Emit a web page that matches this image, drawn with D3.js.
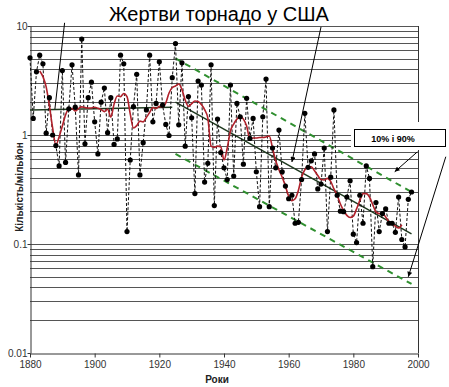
<!DOCTYPE html>
<html>
<head>
<meta charset="utf-8">
<script src="https://cdn.jsdelivr.net/npm/d3@7"></script>
<style>
  body { margin: 0; background: #fff; }
  svg { display: block; font-family: Arial, 'Liberation Sans', sans-serif; }
</style>
</head>
<body>
<div id="chart"></div>
<script>
// ANOS E VALORES (mortes por tornado por milhão de habitantes)
const first_year = 1880;
const deaths = [
  5.1, 1.42, 3.8, 5.4, 4.5, 1.04, 2.2, 1.0, 0.8, 0.52,       // 1880-1889
  3.9, 0.56, 1.74, 4.4, 1.8, 0.43, 7.6, 0.83, 2.2, 3.05,     // 1890-1899
  1.32, 0.67, 2.0, 2.7, 1.05, 2.2, 0.82, 0.92, 5.4, 4.5,     // 1900-1909
  0.13, 0.59, 1.82, 3.6, 0.43, 0.85, 1.7, 5.4, 1.32, 1.95,   // 1910-1919
  4.7, 1.88, 1.25, 0.99, 3.36, 6.9, 1.24, 4.6, 0.79, 2.25,   // 1920-1929
  1.44, 0.29, 3.13, 2.87, 0.37, 0.55, 4.4, 0.225, 1.4, 0.69, // 1930-1939
  0.5, 0.39, 2.87, 0.42, 1.95, 1.47, 0.54, 2.17, 0.93, 1.42, // 1940-1949
  0.46, 0.22, 1.47, 3.26, 0.22, 0.76, 0.5, 1.11, 0.46, 0.34, // 1950-1959
  0.26, 0.28, 0.155, 0.158, 0.39, 1.58, 0.505, 0.58, 0.67, 0.32, // 1960-1969
  0.355, 0.76, 0.13, 0.41, 1.7, 0.28, 0.2, 0.198, 0.27, 0.38,    // 1970-1979
  0.123, 0.103, 0.28, 0.155, 0.52, 0.4, 0.062, 0.24, 0.13, 0.19, // 1980-1989
  0.21, 0.155, 0.155, 0.128, 0.27, 0.11, 0.094, 0.257, 0.3       // 1990-1998
];

// MÉDIA SUAVIZADA (linha vermelha), de 1883 a 1995
const smooth_first_year = 1883;
const smooth = [
  3.87, 3.43, 2.76, 1.85, 1.16, 0.81, 0.96, 1.21, 1.53, 1.73,  // 1883-1892
  1.75, 1.66, 1.75, 1.81, 1.79, 1.77, 1.77, 1.8, 1.76, 1.71,   // 1893-1902
  1.64, 1.73, 1.46, 1.92, 2.28, 2.25, 2.4, 2.25, 1.56, 1.16,   // 1903-1912
  1.22, 1.34, 1.32, 1.45, 1.61, 1.79, 1.75, 1.83, 1.81, 1.97,  // 1913-1922
  2.43, 2.73, 2.82, 2.94, 2.61, 2.09, 1.83, 1.94, 2.05, 2.03,  // 1923-1932
  1.9, 1.71, 1.43, 0.79, 0.77, 0.79, 0.78, 0.59, 0.76, 1.09,   // 1933-1942
  1.26, 1.4, 1.49, 1.4, 1.21, 0.92, 0.94, 0.94, 0.95, 0.95,    // 1943-1952
  0.96, 0.98, 0.76, 0.58, 0.48, 0.41, 0.34, 0.275, 0.25, 0.26, // 1953-1962
  0.31, 0.41, 0.48, 0.51, 0.51, 0.47, 0.425, 0.39, 0.387, 0.4, // 1963-1972
  0.375, 0.32, 0.28, 0.233, 0.203, 0.183, 0.175, 0.18, 0.21, 0.25, // 1973-1982
  0.29, 0.29, 0.27, 0.23, 0.197, 0.19, 0.19, 0.177, 0.16, 0.153,   // 1983-1992
  0.146, 0.14, 0.15                                                 // 1993-1995
];

// TENDÊNCIAS E PERCENTIS [ano, valor]
const trend_old = [[1880, 1.7], [1924, 1.8]];
const trend_new = [[1925, 2.0], [1998, 0.124]];
const pct_90 = [[1925, 5.05], [1998, 0.30]];
const pct_10 = [[1925, 0.67], [1998, 0.043]];

// EIXOS
const x_ticks = [1880, 1900, 1920, 1940, 1960, 1980, 2000];
const y_ticks = [0.01, 0.1, 1, 10];
const y_tick_labels = ['0.01', '0.1', '1', '10'];

// SETAS DE ANOTAÇÃO [ano, valor] -> [ano, valor]
const leaders = [
  { from: [1890.7, 10.7], to: [1887.7, 1.73], arrow: false },
  { from: [1970.0, 9.8], to: [1961.0, 0.565], arrow: true },
  { from: [1999.8, 0.70], to: [1992.8, 0.46], arrow: true },
  { from: [2008.6, 0.632], to: [1997.0, 0.05], arrow: true }
];

const title = 'Жертви торнадо у США';
const y_title = 'Кількість/мільйон';
const x_title = 'Роки';
const legend_text = '10% і 90%';

const width = 449, height = 387;
const m_left = 30, m_right = 418, m_top = 26, m_bottom = 353;

const x = d3.scaleLinear().domain([1880, 2000]).range([m_left, m_right]);
const y = d3.scaleLog().domain([0.01, 10]).range([m_bottom, m_top]);

const points = deaths.map((v, i) => ({ year: first_year + i, value: v }));
const smooth_points = smooth.map((v, i) => ({ year: smooth_first_year + i, value: v }));

const svg = d3.select('#chart')
  .append('svg')
  .attr('width', width)
  .attr('height', height);

svg.append('defs')
  .append('marker')
  .attr('id', 'arrow')
  .attr('viewBox', '0 0 10 10')
  .attr('refX', 10)
  .attr('refY', 5)
  .attr('markerWidth', 6)
  .attr('markerHeight', 5)
  .attr('orient', 'auto')
  .append('path')
  .attr('d', 'M0,0L10,5L0,10z')
  .attr('fill', '#000');

//GRIDLINES (1..9 por década)
let grid_values = [];
[0.01, 0.1, 1].forEach(d => {
  for (let k = 1; k < 10; k++) grid_values.push(k * d);
});
grid_values.push(10);
grid_values = grid_values.slice(1); // 0.01 é o próprio eixo

svg.append('g')
  .selectAll('line')
  .data(grid_values)
  .enter()
  .append('line')
  .attr('x1', m_left)
  .attr('x2', m_right)
  .attr('y1', d => Math.round(y(d)) + 0.5)
  .attr('y2', d => Math.round(y(d)) + 0.5)
  .attr('stroke', '#555')
  .attr('stroke-width', 1);

//BORDA DIREITA
svg.append('line')
  .attr('x1', m_right + 0.5).attr('x2', m_right + 0.5)
  .attr('y1', m_top).attr('y2', m_bottom)
  .attr('stroke', '#333');

//EIXO X
const x_axis = svg.append('g')
  .attr('transform', `translate(0,${m_bottom + 0.5})`)
  .call(d3.axisBottom(x).tickValues(x_ticks).tickFormat(d3.format('d')).tickSize(4).tickSizeOuter(0));

//EIXO Y
const y_axis = svg.append('g')
  .attr('transform', `translate(${m_left + 0.5},0)`)
  .call(d3.axisLeft(y).tickValues(y_ticks).tickFormat((d, i) => y_tick_labels[i]).tickSize(3).tickSizeOuter(0));

[x_axis, y_axis].forEach(a => {
  a.select('.domain').attr('stroke', '#333');
  a.selectAll('.tick line').attr('stroke', '#333');
  a.selectAll('.tick text')
    .attr('fill', '#333')
    .style('font-size', '10px')
    .style('font-family', "Arial, 'Liberation Sans', sans-serif");
});
y_axis.selectAll('.tick text').attr('x', -3);

const line = d3.line()
  .x(d => x(d[0]))
  .y(d => y(d[1]));

//PERCENTIS 10% E 90%
[pct_90, pct_10].forEach(p => {
  svg.append('path')
    .attr('d', line(p))
    .attr('fill', 'none')
    .attr('stroke', '#2f8f2f')
    .attr('stroke-width', 2)
    .attr('stroke-dasharray', '6,5');
});

//TENDÊNCIAS
[trend_old, trend_new].forEach(t => {
  svg.append('path')
    .attr('d', line(t))
    .attr('fill', 'none')
    .attr('stroke', '#1f3a1f')
    .attr('stroke-width', 1.5);
});

//LINHA TRACEJADA ENTRE OS PONTOS
svg.append('path')
  .datum(points)
  .attr('d', d3.line().x(d => x(d.year)).y(d => y(d.value)))
  .attr('fill', 'none')
  .attr('stroke', '#111')
  .attr('stroke-width', 1)
  .attr('stroke-dasharray', '3,2');

//MÉDIA SUAVIZADA
svg.append('path')
  .datum(smooth_points)
  .attr('d', d3.line().x(d => x(d.year)).y(d => y(d.value)).curve(d3.curveMonotoneX))
  .attr('fill', 'none')
  .attr('stroke', '#b0212b')
  .attr('stroke-width', 1.6);

//PONTOS
svg.append('g')
  .selectAll('circle')
  .data(points)
  .enter()
  .append('circle')
  .attr('cx', d => x(d.year))
  .attr('cy', d => y(d.value))
  .attr('r', 2.6)
  .attr('fill', '#000');

//SETAS
leaders.forEach(l => {
  svg.append('line')
    .attr('x1', x(l.from[0])).attr('y1', y(l.from[1]))
    .attr('x2', x(l.to[0])).attr('y2', y(l.to[1]))
    .attr('stroke', '#000')
    .attr('stroke-width', 1)
    .attr('marker-end', l.arrow ? 'url(#arrow)' : null);
});

//LEGENDA
svg.append('rect')
  .attr('x', 351).attr('y', 122)
  .attr('width', 98).attr('height', 28)
  .attr('fill', '#fff');
svg.append('rect')
  .attr('x', 354.5).attr('y', 129.5)
  .attr('width', 91).attr('height', 17)
  .attr('fill', '#fff')
  .attr('stroke', '#000');
svg.append('text')
  .attr('x', 393).attr('y', 141.5)
  .attr('text-anchor', 'middle')
  .style('font-size', '9px')
  .style('font-weight', 'bold')
  .text(legend_text);

//TÍTULOS
svg.append('text')
  .attr('x', 219).attr('y', 21)
  .attr('text-anchor', 'middle')
  .style('font-size', '20px')
  .text(title);

svg.append('text')
  .attr('transform', `translate(23,187) rotate(-90)`)
  .attr('text-anchor', 'middle')
  .style('font-size', '10px')
  .style('font-weight', 'bold')
  .attr('fill', '#222')
  .text(y_title);

svg.append('text')
  .attr('x', 217).attr('y', 383)
  .attr('text-anchor', 'middle')
  .style('font-size', '10px')
  .style('font-weight', 'bold')
  .attr('fill', '#222')
  .text(x_title);
</script>
</body>
</html>
